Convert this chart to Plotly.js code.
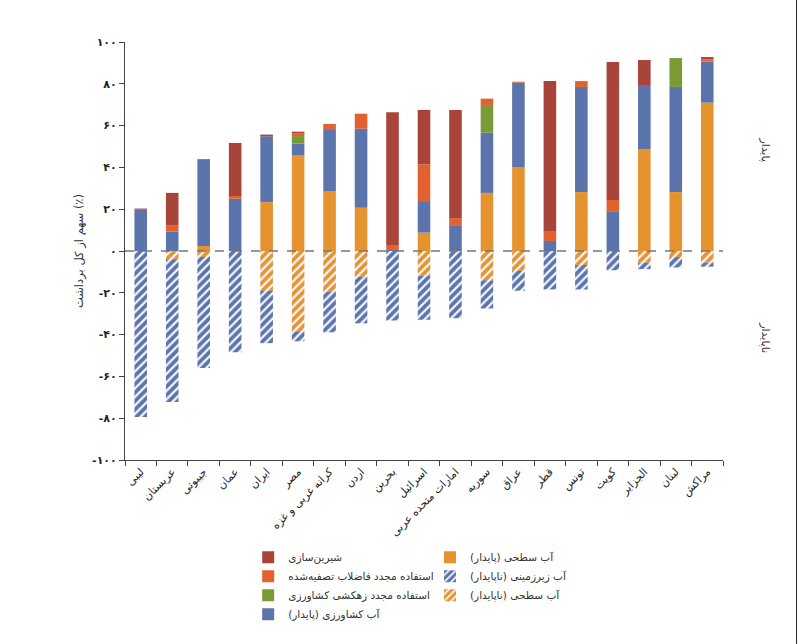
<!DOCTYPE html>
<html>
<head>
<meta charset="utf-8">
<script src="https://cdn.plot.ly/plotly-3.0.1.min.js"></script>
<style>
html,body{margin:0;padding:0;background:#fff;}
#chart{width:801px;height:644px;}
</style>
</head>
<body>
<div id="chart"></div>
<script>
const categories = ['لیبی','عربستان','جیبوتی','عمان','ایران','مصر','کرانه غربی و غزه','اردن','بحرین','اسرائیل','امارات متحده عربی','سوریه','عراق','قطر','تونس','کویت','الجزایر','لبنان','مراکش'];

const surfaceSustainable   = [0, 0, 2.4, 0, 23.4, 45.9, 28.7, 20.7, 0, 8.8, 0, 27.8, 40.2, 0, 28.2, 0, 48.6, 28.2, 71];
const agriSustainable      = [20, 9.3, 41.1, 25, 31.5, 5.5, 29.2, 37.8, 0.5, 15.1, 12, 28.8, 40.3, 4.8, 50.3, 18.7, 30.8, 50.3, 19.6];
const drainageReuse        = [0, 0, 0, 0, 0, 3.6, 0, 0, 0, 0, 0, 12.8, 0, 0, 0, 0, 0, 13.8, 0];
const wastewaterReuse      = [0, 3.1, 0.5, 1.3, 0, 1.2, 2.9, 7.2, 2.4, 17.6, 3.6, 3.5, 0.5, 4.8, 2.8, 5.7, 0, 0, 1.1];
const desalination         = [0.3, 15.4, 0, 25.4, 0.8, 0.9, 0, 0, 63.5, 26, 51.9, 0, 0, 71.7, 0, 66, 12, 0, 1.1];
const surfaceUnsustainable = [0, -4, -2.9, 0, -19, -38.4, -19.4, -12.4, 0, -11.9, 0, -14, -9.5, 0, -6.7, 0, -5.6, -2.9, -5.6];
const groundUnsustainable  = [-79.4, -68.2, -53.1, -48.4, -25.1, -4.8, -19.5, -22.2, -33.3, -21, -32.2, -13.5, -9.5, -18.4, -11.7, -9.2, -3.1, -5, -1.9];

const yTickVals = [100, 80, 60, 40, 20, 0, -20, -40, -60, -80, -100];
const yTickText = ['۱۰۰','۸۰','۶۰','۴۰','۲۰','۰','-۲۰','-۴۰','-۶۰','-۸۰','-۱۰۰'];

const C = {red:'#a8443a', wrw:'#e2622f', green:'#799a35', blue:'#5b74ab', orange:'#e5932f'};
const FONT = 'DejaVu Sans, sans-serif';

function solid(y, name, color, legend, rank){
  return {type:'bar', x:categories, y:y, name:name, legend:legend, legendrank:rank,
    marker:{color:color, line:{width:0}}, hoverinfo:'x+y+name'};
}
function hatched(y, name, color, legend, rank){
  return {type:'bar', x:categories, y:y, name:name, legend:legend, legendrank:rank,
    marker:{color:color, line:{width:0},
      pattern:{shape:'/', bgcolor:color, fgcolor:'#f4f4fb', size:6, solidity:0.38, fillmode:'replace'}},
    hoverinfo:'x+y+name'};
}

const data = [
  solid(surfaceSustainable, 'آب سطحی (پایدار)', C.orange, 'legend2', 1),
  solid(agriSustainable, 'آب کشاورزی (پایدار)', C.blue, 'legend', 4),
  solid(drainageReuse, 'استفاده مجدد زهکشی کشاورزی', C.green, 'legend', 3),
  solid(wastewaterReuse, 'استفاده مجدد فاضلاب تصفیه‌شده', C.wrw, 'legend', 2),
  solid(desalination, 'شیرین‌سازی', C.red, 'legend', 1),
  hatched(surfaceUnsustainable, 'آب سطحی (ناپایدار)', C.orange, 'legend2', 3),
  hatched(groundUnsustainable, 'آب زیرزمینی (ناپایدار)', C.blue, 'legend2', 2)
];

const legendCommon = {orientation:'v', yanchor:'top', xanchor:'left',
  font:{family:FONT, size:10.5, color:'#333'}, bgcolor:'rgba(0,0,0,0)', itemwidth:30, tracegroupgap:0};

const layout = {
  width:801, height:644,
  margin:{l:125, r:78, t:42, b:184},
  paper_bgcolor:'#fff', plot_bgcolor:'#fff',
  barmode:'relative', bargap:0.6,
  font:{family:FONT, color:'#222'},
  xaxis:{type:'category', tickangle:-45, tickson:'boundaries', ticks:'outside', ticklen:5,
    tickcolor:'#444', showline:true, linecolor:'#444', linewidth:1, showgrid:false, zeroline:false,
    tickfont:{family:FONT, size:11, color:'#222'}, fixedrange:true},
  yaxis:{range:[-100,100], tickvals:yTickVals, ticktext:yTickText, ticks:'outside', ticklen:5,
    tickcolor:'#444', showline:true, linecolor:'#444', linewidth:1, showgrid:false, zeroline:false,
    tickfont:{family:FONT, size:11, color:'#222', weight:'bold'},
    title:{text:'سهم از کل برداشت (٪)', font:{family:FONT, size:11.5, color:'#333'}, standoff:6}},
  showlegend:true,
  legend:Object.assign({}, legendCommon, {x:0.206, y:-0.198}),
  legend2:Object.assign({}, legendCommon, {x:0.51, y:-0.198}),
  shapes:[
    {type:'line', xref:'paper', x0:0, x1:1, yref:'y', y0:0, y1:0, line:{color:'#777', width:1.5, dash:'dash'}},
    {type:'line', xref:'paper', x0:1.123, x1:1.123, yref:'paper', y0:-0.44, y1:1.1005, line:{color:'#222', width:1}}
  ],
  annotations:[
    {xref:'paper', yref:'paper', x:1.085, y:0.777, text:'پایدار', showarrow:false, textangle:90,
      font:{family:FONT, size:11, color:'#333'}},
    {xref:'paper', yref:'paper', x:1.085, y:0.251, text:'ناپایدار', showarrow:false, textangle:90,
      font:{family:FONT, size:11, color:'#333'}}
  ]
};

Plotly.newPlot('chart', data, layout, {displayModeBar:false, staticPlot:true});
</script>
</body>
</html>
